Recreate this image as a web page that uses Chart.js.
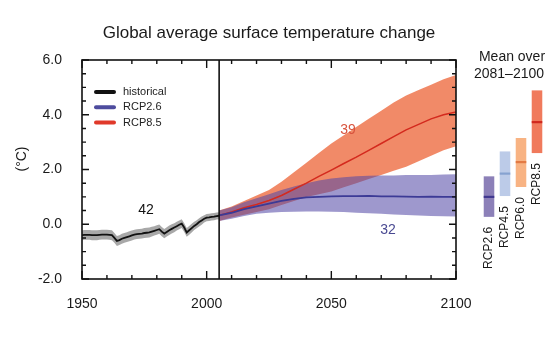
<!DOCTYPE html>
<html>
<head>
<meta charset="utf-8">
<script src="https://cdn.jsdelivr.net/npm/chart.js"></script>
<style>
body{margin:0;background:#fff;}
#wrap{position:relative;width:553px;height:337px;background:#fff;}
#main{position:absolute;left:0;top:0;}
#side{position:absolute;left:466px;top:0;}
</style>
</head>
<body>
<div id="wrap">
<canvas id="main" width="553" height="337"></canvas>
<canvas id="side" width="87" height="337"></canvas>
</div>
<script>
const fontFam = '"Liberation Sans", Arial, Helvetica, sans-serif';

const histStart = 1950;
const histMean = [
	-0.40,-0.39,-0.39,-0.39,-0.40,-0.40,-0.40,-0.39,-0.38,-0.38,
	-0.38,-0.39,-0.40,-0.50,-0.61,-0.58,-0.53,-0.50,-0.47,-0.44,
	-0.41,-0.38,-0.36,-0.35,-0.34,-0.32,-0.31,-0.30,-0.27,-0.24,
	-0.21,-0.18,-0.27,-0.34,-0.28,-0.22,-0.17,-0.12,-0.07,-0.02,
	0.02,-0.12,-0.30,-0.22,-0.14,-0.06,0.00,0.08,0.14,0.20,
	0.24,0.25,0.27,0.28,0.30,0.31
];
const histHigh = [
	-0.22,-0.21,-0.21,-0.21,-0.22,-0.22,-0.22,-0.21,-0.20,-0.20,
	-0.20,-0.21,-0.22,-0.32,-0.43,-0.40,-0.35,-0.32,-0.29,-0.26,
	-0.23,-0.20,-0.18,-0.17,-0.16,-0.14,-0.13,-0.12,-0.09,-0.07,
	-0.04,-0.01,-0.10,-0.17,-0.11,-0.05,0.00,0.04,0.09,0.14,
	0.18,0.04,-0.14,-0.06,0.02,0.09,0.15,0.22,0.28,0.33,
	0.37,0.38,0.40,0.41,0.43,0.44
];
const histLow = [
	-0.58,-0.57,-0.57,-0.57,-0.58,-0.58,-0.58,-0.57,-0.56,-0.56,
	-0.56,-0.57,-0.58,-0.68,-0.79,-0.76,-0.71,-0.68,-0.65,-0.62,
	-0.59,-0.56,-0.54,-0.53,-0.52,-0.50,-0.49,-0.48,-0.45,-0.41,
	-0.38,-0.35,-0.44,-0.51,-0.45,-0.39,-0.34,-0.29,-0.23,-0.18,
	-0.14,-0.28,-0.46,-0.38,-0.30,-0.21,-0.15,-0.08,-0.02,0.06,
	0.11,0.12,0.14,0.15,0.17,0.18
];

const projYears = [2005,2010,2015,2020,2025,2030,2035,2040,2045,2050,2055,2060,2065,2070,2075,2080,2085,2090,2095,2100];
const rcp26Mean = [0.32,0.42,0.55,0.65,0.75,0.85,0.93,0.98,1.00,1.02,1.03,1.03,1.04,1.02,1.02,1.01,1.00,1.01,1.00,1.00];
const rcp26High = [0.50,0.62,0.80,0.95,1.10,1.25,1.38,1.50,1.60,1.67,1.72,1.75,1.77,1.78,1.78,1.80,1.80,1.80,1.82,1.83];
const rcp26Low  = [0.12,0.20,0.30,0.38,0.42,0.45,0.46,0.47,0.47,0.46,0.45,0.42,0.40,0.38,0.36,0.34,0.32,0.30,0.29,0.28];
const rcp85Mean = [0.32,0.45,0.60,0.72,0.87,1.05,1.28,1.50,1.75,1.98,2.22,2.45,2.70,2.95,3.20,3.45,3.65,3.85,4.00,4.10];
const rcp85High = [0.50,0.65,0.85,1.05,1.25,1.55,1.90,2.25,2.60,2.95,3.25,3.55,3.85,4.15,4.45,4.70,4.90,5.10,5.30,5.45];
const rcp85Low  = [0.12,0.25,0.35,0.45,0.55,0.70,0.85,1.00,1.10,1.20,1.35,1.50,1.65,1.80,1.95,2.10,2.30,2.50,2.70,2.85];

const xTicks = [1950,2000,2050,2100];
const yTicks = [-2,0,2,4,6];
const seriesNames = ['historical','RCP2.6','RCP8.5'];
const modelCounts = ['42','39','32'];

const sideNames = ['RCP2.6','RCP4.5','RCP6.0','RCP8.5'];
const sideLow  = [0.27,1.03,1.36,2.60];
const sideHigh = [1.75,2.66,3.15,4.89];
const sideMean = [1.00,1.85,2.27,3.73];

const histYears = histMean.map((v,i)=>histStart+i);
const pts = (xs, ys) => ys.map((v,i)=>({x:xs[i], y:v}));

const lineSet = (label, data, color, w) => ({
	label: label, data: data, borderColor: color, borderWidth: w,
	pointRadius: 0, fill: false, tension: 0
});
const edgeSet = (data) => ({
	data: data, borderWidth: 0, borderColor: 'transparent', pointRadius: 0, fill: false
});
const bandSet = (data, color) => ({
	data: data, borderWidth: 0, borderColor: 'transparent', pointRadius: 0,
	fill: '-1', backgroundColor: color
});

const mainPlugin = {
	id: 'mainDecor',
	afterDatasetsDraw(chart) {
		const {ctx, chartArea: a, scales: {x, y}} = chart;
		ctx.save();
		ctx.strokeStyle = '#111';
		ctx.lineWidth = 1.6;
		ctx.strokeRect(a.left, a.top, a.right - a.left, a.bottom - a.top);
		const xv = x.getPixelForValue(2005);
		ctx.beginPath();
		ctx.moveTo(xv, a.top);
		ctx.lineTo(xv, a.bottom);
		ctx.stroke();

		ctx.lineWidth = 1.4;
		ctx.beginPath();
		for (let v = 1950; v <= 2100; v += 10) {
			const p = x.getPixelForValue(v), l = v % 50 ? 4 : 8;
			ctx.moveTo(p, a.bottom); ctx.lineTo(p, a.bottom - l);
			ctx.moveTo(p, a.top); ctx.lineTo(p, a.top + l);
		}
		for (let i = 0; i <= 16; i++) {
			const p = y.getPixelForValue(-2 + i * 0.5), l = i % 4 ? 4 : 7;
			ctx.moveTo(a.left, p); ctx.lineTo(a.left + l, p);
			ctx.moveTo(a.right, p); ctx.lineTo(a.right - l, p);
		}
		ctx.stroke();

		// legend
		ctx.font = '11px ' + fontFam;
		ctx.textBaseline = 'middle';
		ctx.textAlign = 'left';
		for (let i = 0; i < 3; i++) {
			const ds = chart.data.datasets[i], ly = 92 + i * 15.3;
			ctx.strokeStyle = ds.legendColor;
			ctx.lineWidth = 4;
			ctx.lineCap = 'round';
			ctx.beginPath(); ctx.moveTo(96, ly); ctx.lineTo(114, ly); ctx.stroke();
			ctx.fillStyle = '#222';
			ctx.fillText(ds.label, 123, ly);
		}

		// model counts
		ctx.font = '14px ' + fontFam;
		ctx.textAlign = 'center';
		ctx.fillStyle = '#111';
		ctx.fillText(modelCounts[0], x.getPixelForValue(1975.7), y.getPixelForValue(0.5));
		ctx.fillStyle = '#d8543e';
		ctx.fillText(modelCounts[1], x.getPixelForValue(2056.7), y.getPixelForValue(3.43));
		ctx.fillStyle = '#4a4a92';
		ctx.fillText(modelCounts[2], x.getPixelForValue(2072.7), y.getPixelForValue(-0.22));

		// title and unit
		ctx.fillStyle = '#1a1a1a';
		ctx.font = '17px ' + fontFam;
		ctx.fillText('Global average surface temperature change', 269, 33);
		ctx.font = '14px ' + fontFam;
		ctx.translate(22, 159);
		ctx.rotate(-Math.PI / 2);
		ctx.fillText('(°C)', 0, 0);
		ctx.restore();
	}
};

new Chart(document.getElementById('main'), {
	type: 'line',
	data: {
		datasets: [
			Object.assign(lineSet(seriesNames[0], pts(histYears, histMean), '#111', 1.8), {legendColor: '#111'}),
			Object.assign(lineSet(seriesNames[1], pts(projYears, rcp26Mean), '#3c3a96', 1.8), {legendColor: '#4e4c9e'}),
			Object.assign(lineSet(seriesNames[2], pts(projYears, rcp85Mean), '#d42a1e', 1.5), {legendColor: '#e0392a'}),
			edgeSet(pts(histYears, histLow)),
			bandSet(pts(histYears, histHigh), 'rgba(110,110,110,0.6)'),
			edgeSet(pts(projYears, rcp26Low)),
			bandSet(pts(projYears, rcp26High), 'rgba(82,72,165,0.56)'),
			edgeSet(pts(projYears, rcp85Low)),
			bandSet(pts(projYears, rcp85High), 'rgba(238,118,78,0.85)')
		]
	},
	options: {
		responsive: false,
		animation: false,
		devicePixelRatio: 1,
		layout: {padding: {left: 10, right: 97, top: 60, bottom: 0}},
		plugins: {legend: {display: false}, tooltip: {enabled: false}},
		scales: {
			x: {
				type: 'linear', min: 1950, max: 2100,
				afterBuildTicks: s => { s.ticks = xTicks.map(v => ({value: v})); },
				afterFit: s => { s.height = 58; },
				grid: {display: false, drawTicks: false},
				border: {display: false},
				ticks: {font: {size: 14, family: fontFam}, color: '#1a1a1a', padding: 17, maxRotation: 0, callback: v => String(v)}
			},
			y: {
				min: -2, max: 6,
				afterBuildTicks: s => { s.ticks = yTicks.map(v => ({value: v})); },
				afterFit: s => { s.width = 72; },
				grid: {display: false, drawTicks: false},
				border: {display: false},
				ticks: {font: {size: 14, family: fontFam}, color: '#1a1a1a', padding: 20, callback: v => v.toFixed(1)}
			}
		}
	},
	plugins: [mainPlugin]
});

const sidePlugin = {
	id: 'sideDecor',
	afterDatasetsDraw(chart) {
		const {ctx, scales: {y}} = chart;
		const meta = chart.getDatasetMeta(1);
		ctx.save();
		ctx.fillStyle = '#1a1a1a';
		ctx.font = '12px ' + fontFam;
		ctx.textBaseline = 'middle';
		ctx.textAlign = 'right';
		meta.data.forEach((bar, i) => {
			ctx.save();
			ctx.translate(bar.x, y.getPixelForValue(sideLow[i]) + 10);
			ctx.rotate(-Math.PI / 2);
			ctx.fillText(sideNames[i], 0, 0);
			ctx.restore();
		});
		ctx.textAlign = 'center';
		ctx.font = '14px ' + fontFam;
		ctx.fillText('Mean over', 46, 57);
		ctx.fillText('2081\u20132100', 43, 74);
		ctx.restore();
	}
};

new Chart(document.getElementById('side'), {
	type: 'bar',
	data: {
		labels: sideNames,
		datasets: [
			{
				data: sideMean.map(v => [v - 0.04, v + 0.04]),
				backgroundColor: ['#40378f', '#86a2d0', '#e37a44', '#d0281e'],
				grouped: false, order: 0, borderWidth: 0,
				barPercentage: 0.66, categoryPercentage: 1
			},
			{
				data: sideLow.map((v, i) => [v, sideHigh[i]]),
				backgroundColor: ['#8c80b8', '#bccbe8', '#f8b383', '#f07a5c'],
				grouped: false, order: 1, borderWidth: 0,
				barPercentage: 0.66, categoryPercentage: 1
			}
		]
	},
	options: {
		responsive: false,
		animation: false,
		devicePixelRatio: 1,
		layout: {padding: {left: 15, right: 8, top: 60, bottom: 58}},
		plugins: {legend: {display: false}, tooltip: {enabled: false}},
		scales: {
			x: {display: false},
			y: {display: false, min: -2, max: 6}
		}
	},
	plugins: [sidePlugin]
});
</script>
</body>
</html>
